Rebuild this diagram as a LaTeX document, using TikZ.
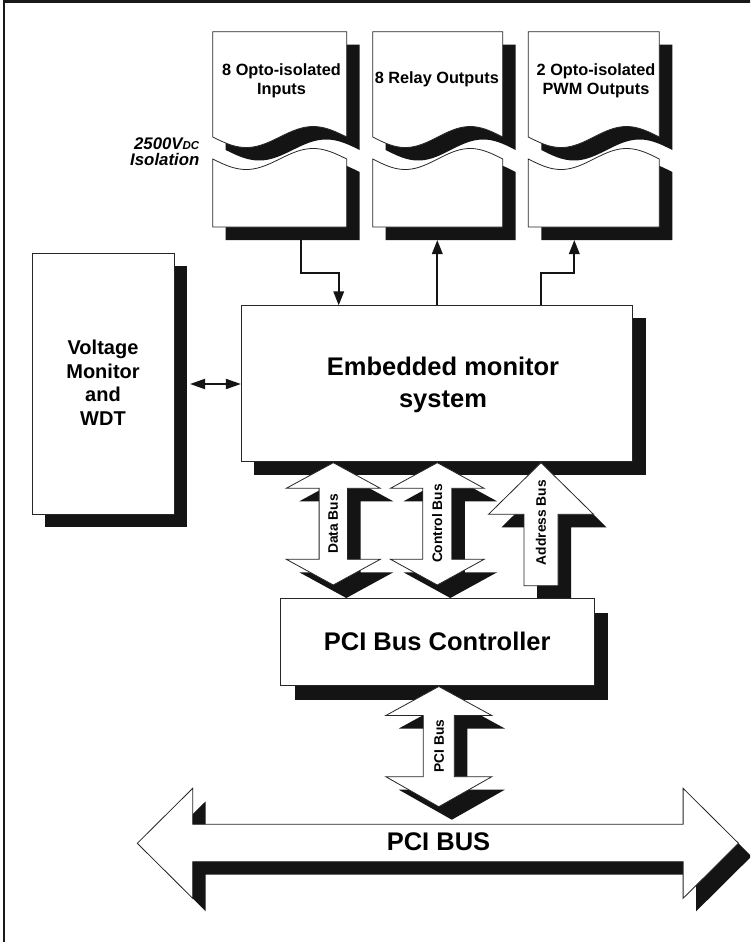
\documentclass[tikz,border=0pt]{standalone}
\usepackage{fontspec}
\setmainfont{Liberation Sans}
\usetikzlibrary{arrows.meta,shadows}
\newcommand{\dblarrowpath}[7]{(#1,#2) -- ({#1+#4},#3) -- ({#1+#5},#3) -- ({#1+#5},#6) -- ({#1+#4},#6) -- (#1,#7) -- ({#1-#4},#6) -- ({#1-#5},#6) -- ({#1-#5},#3) -- ({#1-#4},#3) -- cycle}
\begin{document}
\begin{tikzpicture}[x=1pt,y=-1pt,
  shd/.style={fill=black!92,draw=none},
  wbox/.style={fill=white,draw=black!85,line width=0.8pt},
  boxshadow/.style={drop shadow={shadow xshift=13pt,shadow yshift=-13pt,opacity=1,fill=black!92}},
  conn/.style={draw=black!92,line width=1.9pt,-{Triangle[length=14pt,width=10.5pt]}},
  dconn/.style={draw=black!92,line width=1.9pt,{Triangle[length=15pt,width=10pt]}-{Triangle[length=15pt,width=10pt]}},
  lbl/.style={font=\bfseries\fontsize{16.3}{19}\selectfont,align=center,inner sep=0pt},
  buslbl/.style={font=\bfseries\fontsize{13.8}{14}\selectfont,rotate=90,inner sep=0pt},
  bigfont/.style={font=\bfseries\fontsize{25.5}{31.7}\selectfont,align=center}
]
\useasboundingbox (0,0) rectangle (750,942);
\clip (0,0) rectangle (750,942);
\fill[white] (0,0) rectangle (750,942);
% frame
\draw[black!90,line width=2.7pt] (4,1.3) rectangle (800,1000);

% top boxes with wavy break
\foreach \myL/\myR in {212.7/346.7,372.7/502.7,528.3/659.3}{
  \fill[black!92,shift={(13,13)}] (\myL,31.7) -- (\myR,31.7) -- (\myR,137) -- plot[domain=\myR:\myL,samples=60] (\x,{137+10.5*sin((\x-\myL)/(\myR-\myL)*360)}) -- cycle;
  \fill[black!92,shift={(13,13)}] (\myL,227) -- (\myR,227) -- (\myR,159) -- plot[domain=\myR:\myL,samples=60] (\x,{159+10.5*sin((\x-\myL)/(\myR-\myL)*360)}) -- cycle;
  \path[wbox] (\myL,31.7) -- (\myR,31.7) -- (\myR,137) -- plot[domain=\myR:\myL,samples=60] (\x,{137+10.5*sin((\x-\myL)/(\myR-\myL)*360)}) -- cycle;
  \path[wbox] (\myL,227) -- (\myR,227) -- (\myR,159) -- plot[domain=\myR:\myL,samples=60] (\x,{159+10.5*sin((\x-\myL)/(\myR-\myL)*360)}) -- cycle;
}
\node[lbl] (t1) at (281.5,81) {8 Opto-isolated\\Inputs};
\node[lbl] (t2) at (436.8,79) {8 Relay Outputs};
\node[lbl] (t3) at (596,80.5) {2 Opto-isolated\\PWM Outputs};
\node[anchor=north east,align=right,inner sep=0pt,font=\bfseries\itshape\fontsize{16.8}{16.5}\selectfont] (iso) at (199.5,137.3) {2500V{\fontsize{11.5}{12}\selectfont DC}\\Isolation};

% voltage monitor
\node[wbox,boxshadow,minimum width=142pt,minimum height=261pt] (volt) at (103,383.5) {};
\node[font=\bfseries\fontsize{20}{23.5}\selectfont,align=center] (vtxt) at (103,382.5) {Voltage\\Monitor\\and\\WDT};

% embedded monitor system
\node[wbox,boxshadow,minimum width=391.4pt,minimum height=156.4pt] (emb) at (437,383.5) {};
\node[bigfont] (etxt) at (443,385) {Embedded monitor\\system};

% connectors
\coordinate (bendY) at (0,273);
\coordinate (iA) at (301.3,240);
\coordinate (iB) at (338.7,305.3);
\coordinate (rA) at (437.3,240);
\coordinate (rS) at (437.3,305.3);
\coordinate (pA) at (574.3,240);
\coordinate (pS) at (541,305.3);
\coordinate (vA) at (190,384);
\draw[conn] (iA) -- (iA |- bendY) -| (iB);
\draw[conn] (rS) -- (rA);
\draw[conn] (pS) -- (pS |- bendY) -| (pA);
\draw[dconn] (vA) -- (emb.west |- vA);

% bus arrows
\fill[black!92,shift={(13,13)}] \dblarrowpath{333.3}{462.7}{488.3}{47}{14.2}{559.3}{585};
\path[wbox] \dblarrowpath{333.3}{462.7}{488.3}{47}{14.2}{559.3}{585};
\node[buslbl] (dbus) at (333.3,524) {Data Bus};
\fill[black!92,shift={(13,13)}] \dblarrowpath{437.3}{462.7}{488.3}{46.8}{14.5}{559.3}{585};
\path[wbox] \dblarrowpath{437.3}{462.7}{488.3}{46.8}{14.5}{559.3}{585};
\node[buslbl] (cbus) at (437.3,523.5) {Control Bus};
\fill[black!92,shift={(13,13)}] (541,462.7) -- (593.5,514.3) -- (558,514.3) -- (558,585.7) -- (524,585.7) -- (524,514.3) -- (488.5,514.3) -- cycle;
\path[wbox] (541,462.7) -- (593.5,514.3) -- (558,514.3) -- (558,585.7) -- (524,585.7) -- (524,514.3) -- (488.5,514.3) -- cycle;
\node[buslbl] (abus) at (541,522.5) {Address Bus};

% PCI bus controller
\node[wbox,bigfont,drop shadow={shadow xshift=14pt,shadow yshift=-14.5pt,opacity=1,fill=black!92},minimum width=313.5pt,minimum height=86.7pt] (ctrl) at (437.25,641.65) {PCI Bus Controller};

% PCI bus vertical arrow
\fill[black!92,shift={(13,13)}] \dblarrowpath{438.8}{686.5}{715.5}{53}{15.5}{776.7}{806.7};
\path[wbox] \dblarrowpath{438.8}{686.5}{715.5}{53}{15.5}{776.7}{806.7};
\node[buslbl] (pbus) at (439,746) {PCI Bus};

% big PCI BUS arrow
\fill[black!92,shift={(13,13)}] (137.3,843.3) -- (192.7,788.3) -- (192.7,824.3) -- (683.1,824.3) -- (683.1,788.3) -- (738.5,843.3) -- (683.1,898.3) -- (683.1,861.7) -- (192.7,861.7) -- (192.7,898.3) -- cycle;
\path[wbox] (137.3,843.3) -- (192.7,788.3) -- (192.7,824.3) -- (683.1,824.3) -- (683.1,788.3) -- (738.5,843.3) -- (683.1,898.3) -- (683.1,861.7) -- (192.7,861.7) -- (192.7,898.3) -- cycle;
\node[bigfont] (bigbus) at (438.5,841.5) {PCI BUS};
\end{tikzpicture}
\end{document}
